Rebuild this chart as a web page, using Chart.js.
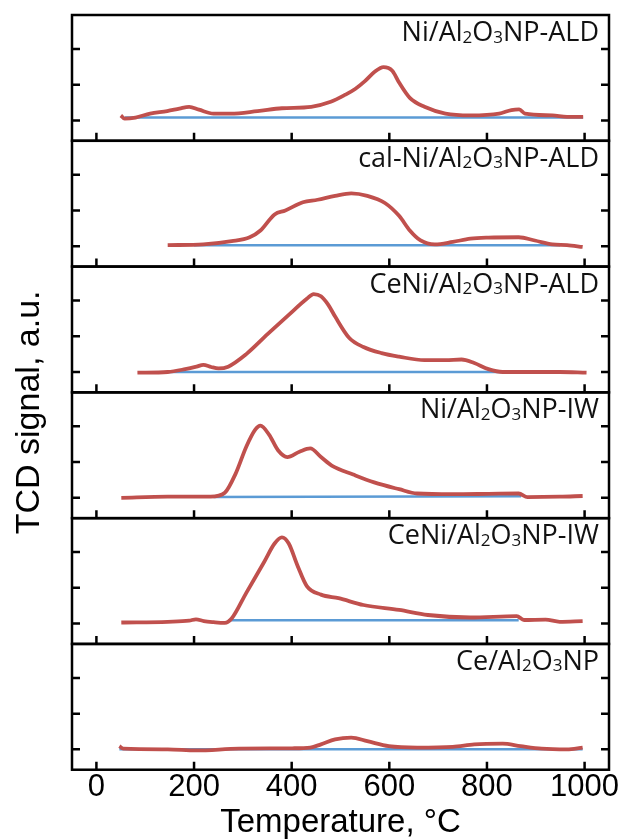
<!DOCTYPE html>
<html>
<head>
<meta charset="utf-8">
<script src="https://cdn.jsdelivr.net/npm/chart.js@4.4.1/dist/chart.umd.min.js"></script>
<style>
  html, body { margin: 0; padding: 0; background: #fff; }
  #wrap { width: 621px; height: 840px; }
</style>
</head>
<body>
<div id="wrap"><canvas id="tpr" width="621" height="840"></canvas></div>
<script>
// Axes
const xTickValues = [0, 200, 400, 600, 800, 1000];
const yTickValues = [0, 1, 2];

// Panel names, top to bottom
const sampleLabels = [
    'Ni/Al₂O₃NP-ALD',
    'cal-Ni/Al₂O₃NP-ALD',
    'CeNi/Al₂O₃NP-ALD',
    'Ni/Al₂O₃NP-IW',
    'CeNi/Al₂O₃NP-IW',
    'Ce/Al₂O₃NP'
];

// Ni/Al2O3NP-ALD
const tempNiALD = [50, 58, 80, 110, 145, 170, 190, 210, 240, 275, 330, 380, 440, 480, 510, 530, 550, 570, 588, 606, 620, 642, 672, 715, 766, 825, 850, 866, 878, 934, 964, 997];
const tcdNiALD = [0.14, 0.05, 0.08, 0.19, 0.26, 0.33, 0.38, 0.30, 0.19, 0.19, 0.26, 0.34, 0.38, 0.52, 0.72, 0.88, 1.10, 1.36, 1.49, 1.39, 1.06, 0.63, 0.38, 0.19, 0.14, 0.19, 0.29, 0.31, 0.19, 0.14, 0.10, 0.10];
const baseTempNiALD = [58, 997];
const baseNiALD = [0.08, 0.08];

// cal-Ni/Al2O3NP-ALD
const tempCalNiALD = [146, 219, 277, 314, 336, 365, 387, 423, 453, 489, 522, 555, 591, 620, 642, 664, 693, 730, 766, 803, 865, 898, 934, 964, 996];
const tcdCalNiALD = [0.03, 0.05, 0.14, 0.25, 0.44, 0.89, 1.00, 1.23, 1.30, 1.41, 1.48, 1.41, 1.21, 0.85, 0.44, 0.16, 0.05, 0.12, 0.21, 0.24, 0.25, 0.16, 0.05, 0.03, -0.02];
const baseTempCalNiALD = [200, 950];
const baseCalNiALD = [0.03, 0.03];

// CeNi/Al2O3NP-ALD
const tempCeNiALD = [84, 146, 182, 205, 219, 235, 250, 270, 307, 350, 394, 431, 445, 460, 475, 489, 518, 547, 584, 620, 672, 715, 748, 774, 803, 832, 876, 949, 1004];
const tcdCeNiALD = [-0.02, 0.0, 0.08, 0.15, 0.20, 0.14, 0.10, 0.15, 0.50, 1.05, 1.60, 2.05, 2.18, 2.12, 1.88, 1.55, 0.95, 0.70, 0.53, 0.43, 0.33, 0.33, 0.35, 0.25, 0.08, 0.0, 0.0, 0.0, -0.02];
const baseTempCeNiALD = [146, 832];
const baseCeNiALD = [0.0, 0.0];

// Ni/Al2O3NP-IW
const tempNiIW = [51, 146, 234, 263, 285, 307, 325, 336, 354, 372, 391, 416, 438, 460, 482, 526, 569, 620, 657, 730, 803, 865, 883, 949, 996];
const tcdNiIW = [0.0, 0.03, 0.03, 0.14, 0.67, 1.43, 1.90, 2.02, 1.76, 1.33, 1.14, 1.29, 1.38, 1.14, 0.90, 0.65, 0.43, 0.24, 0.12, 0.10, 0.11, 0.12, 0.02, 0.03, 0.05];
const baseTempNiIW = [240, 870];
const baseNiIW = [0.02, 0.04];

// CeNi/Al2O3NP-IW
const tempCeNiIW = [51, 146, 190, 204, 220, 240, 263, 277, 307, 343, 365, 380, 394, 412, 431, 460, 496, 547, 620, 679, 766, 861, 876, 920, 949, 996];
const tcdCeNiIW = [0.03, 0.05, 0.08, 0.12, 0.07, 0.04, 0.02, 0.14, 0.86, 1.71, 2.24, 2.41, 2.24, 1.62, 1.05, 0.81, 0.71, 0.52, 0.38, 0.24, 0.17, 0.21, 0.10, 0.11, 0.05, 0.07];
const baseTempCeNiIW = [270, 865];
const baseCeNiIW = [0.09, 0.09];

// Ce/Al2O3NP
const tempCe = [47, 55, 146, 204, 292, 401, 438, 460, 489, 522, 555, 599, 657, 730, 774, 832, 869, 912, 964, 996];
const tcdCe = [0.09, 0.02, 0.0, -0.03, 0.02, 0.03, 0.05, 0.14, 0.28, 0.33, 0.23, 0.09, 0.05, 0.07, 0.14, 0.16, 0.09, 0.02, 0.0, 0.05];
const baseTempCe = [47, 996];
const baseCe = [0.0, 0.0];

const panels = [
    { temp: tempNiALD, tcd: tcdNiALD, bt: baseTempNiALD, b: baseNiALD },
    { temp: tempCalNiALD, tcd: tcdCalNiALD, bt: baseTempCalNiALD, b: baseCalNiALD },
    { temp: tempCeNiALD, tcd: tcdCeNiALD, bt: baseTempCeNiALD, b: baseCeNiALD },
    { temp: tempNiIW, tcd: tcdNiIW, bt: baseTempNiIW, b: baseNiIW },
    { temp: tempCeNiIW, tcd: tcdCeNiIW, bt: baseTempCeNiIW, b: baseCeNiIW },
    { temp: tempCe, tcd: tcdCe, bt: baseTempCe, b: baseCe }
];

const RED = '#c0504d';
const BLUE = '#5b9bd5';
const axisFont = 'Liberation Sans, Arial, sans-serif';
const labelFont = '"Open Sans", sans-serif';
const noGrid = { display: false, drawTicks: false };

const toXY = (xs, ys) => xs.map((x, i) => ({ x: x, y: ys[i] }));

const datasets = [];
const scales = {
    x: {
        type: 'linear',
        min: -50,
        max: 1050,
        afterBuildTicks: s => { s.ticks = xTickValues.map(v => ({ value: v })); },
        grid: noGrid,
        border: { display: false },
        ticks: {
            autoSkip: false,
            maxRotation: 0,
            padding: 0,
            color: '#000',
            callback: v => String(v),
            font: { family: axisFont, size: 31, lineHeight: 1.17 }
        },
        title: {
            display: true,
            text: 'Temperature, °C',
            color: '#000',
            font: { family: axisFont, size: 33, lineHeight: 1 },
            padding: { top: 0, bottom: 1 }
        }
    },
    // carries the vertical axis title (left stack is laid out in reverse order)
    yTitle: {
        type: 'linear',
        position: 'left',
        stack: 'ytitle',
        stackWeight: 714,
        min: 0,
        max: 1,
        grid: noGrid,
        border: { display: false },
        ticks: { display: false },
        title: {
            display: true,
            text: 'TCD signal, a.u.',
            color: '#000',
            font: { family: axisFont, size: 34, lineHeight: 1 },
            padding: { top: 5, bottom: 25 }
        }
    },
    yPad: {
        type: 'linear',
        position: 'left',
        stack: 'ytitle',
        stackWeight: 40,
        grid: noGrid,
        border: { display: false },
        ticks: { display: false }
    }
};

panels.forEach((p, i) => {
    const id = 'p' + i;
    scales[id] = {
        type: 'linear',
        position: 'right',
        stack: 'panels',
        stackWeight: 1,
        min: -0.57,
        max: 2.95,
        grid: noGrid,
        border: { display: false },
        ticks: { display: false }
    };
    datasets.push({
        label: sampleLabels[i],
        data: toXY(p.temp, p.tcd),
        xAxisID: 'x',
        yAxisID: id,
        borderColor: RED,
        borderWidth: 3.8,
        pointRadius: 0,
        cubicInterpolationMode: 'monotone',
        order: 0
    });
    datasets.push({
        label: sampleLabels[i] + ' baseline',
        data: toXY(p.bt, p.b),
        xAxisID: 'x',
        yAxisID: id,
        borderColor: BLUE,
        borderWidth: 2.5,
        pointRadius: 0,
        order: 1
    });
});

// draw a formula with small subscript digits, right aligned
function drawFormula(ctx, text, xRight, yBase, size) {
    const subMap = { '₂': '2', '₃': '3' };
    const parts = [];
    for (const ch of text) {
        const sub = ch in subMap;
        const c = sub ? subMap[ch] : ch;
        const last = parts[parts.length - 1];
        if (last && last.sub === sub) last.t += c;
        else parts.push({ t: c, sub: sub });
    }
    const big = size + 'px ' + labelFont;
    const small = Math.round(size * 0.64) + 'px ' + labelFont;
    let w = 0;
    parts.forEach(p => {
        ctx.font = p.sub ? small : big;
        p.w = ctx.measureText(p.t).width;
        w += p.w;
    });
    let x = xRight - w;
    ctx.textAlign = 'left';
    ctx.textBaseline = 'alphabetic';
    parts.forEach(p => {
        ctx.font = p.sub ? small : big;
        ctx.fillText(p.t, x, yBase + (p.sub ? 1.5 : 0));
        x += p.w;
    });
}

// panel frames, inward ticks and names
const panelFrame = {
    id: 'panelFrame',
    afterDatasetsDraw(chart) {
        const { ctx, chartArea } = chart;
        const xs = chart.scales.x;
        const tick = 8;
        ctx.save();
        ctx.strokeStyle = '#000';
        ctx.fillStyle = '#111';
        ctx.lineWidth = 2.5;
        panels.forEach((p, i) => {
            const s = chart.scales['p' + i];
            ctx.strokeRect(chartArea.left, s.top, chartArea.right - chartArea.left, s.bottom - s.top);
            ctx.beginPath();
            yTickValues.forEach(v => {
                const py = s.getPixelForValue(v);
                ctx.moveTo(chartArea.left, py);
                ctx.lineTo(chartArea.left + tick, py);
                ctx.moveTo(chartArea.right, py);
                ctx.lineTo(chartArea.right - tick, py);
            });
            xTickValues.forEach(v => {
                const px = xs.getPixelForValue(v);
                ctx.moveTo(px, s.bottom);
                ctx.lineTo(px, s.bottom - tick);
            });
            ctx.stroke();
            drawFormula(ctx, sampleLabels[i], chartArea.right - 10, s.top + 26, 27);
        });
        ctx.restore();
    }
};

new Chart(document.getElementById('tpr').getContext('2d'), {
    type: 'line',
    data: { datasets: datasets },
    options: {
        responsive: false,
        animation: false,
        devicePixelRatio: 1,
        layout: { autoPadding: false, padding: { left: 8, right: 12, top: 15, bottom: 0 } },
        plugins: {
            legend: { display: false },
            tooltip: { enabled: false }
        },
        scales: scales
    },
    plugins: [panelFrame]
});
</script>
</body>
</html>
